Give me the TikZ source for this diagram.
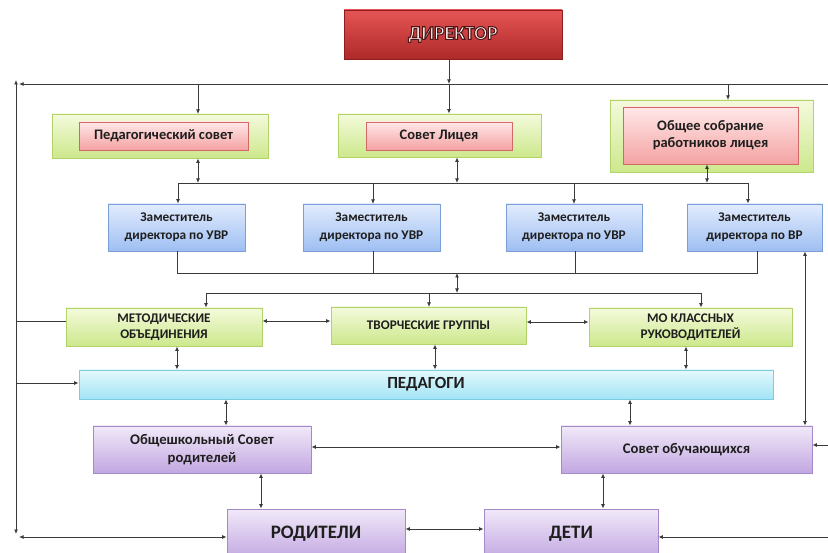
\documentclass[tikz,border=0pt]{standalone}
\usepackage{fontspec}
\setmainfont{Carlito}
\usetikzlibrary{arrows.meta,shadows,calc}
\definecolor{txt}{HTML}{1E1E1E}
\definecolor{lnc}{HTML}{3A3A3A}
\definecolor{gtop}{HTML}{F4FADC}
\definecolor{gbot}{HTML}{CDE88C}
\definecolor{gborder}{HTML}{B2D36A}
\definecolor{ptop}{HTML}{FFE8E8}
\definecolor{pbot}{HTML}{F4A2A2}
\definecolor{pborder}{HTML}{D26868}
\definecolor{btop}{HTML}{E2ECFD}
\definecolor{bbot}{HTML}{9EBEF2}
\definecolor{bborder}{HTML}{7A9ED6}
\definecolor{ctop}{HTML}{E4F9FD}
\definecolor{cbot}{HTML}{A2E4F5}
\definecolor{cborder}{HTML}{7ECCE2}
\definecolor{vtop}{HTML}{F1E9F9}
\definecolor{vbot}{HTML}{C2A7E1}
\definecolor{vborder}{HTML}{A48ACA}
\definecolor{rtop}{HTML}{E65555}
\definecolor{rbot}{HTML}{AE2929}
\definecolor{rborder}{HTML}{8C1E1E}
\newcommand\outltext[1]{\special{pdf:literal direct 2 Tr 1.1 w 0.32 0.08 0.08 RG}#1\special{pdf:literal direct 0 Tr}}
\begin{document}
\begin{tikzpicture}[x=1pt,y=-1pt,
  box/.style={draw, line width=0.8pt, inner sep=1pt, align=center, text=txt,
    drop shadow={shadow xshift=0.8pt, shadow yshift=-1.3pt, opacity=0.3}},
  greenbox/.style={box, draw=gborder, top color=gtop, bottom color=gbot},
  pinkbox/.style={box, draw=pborder, top color=ptop, bottom color=pbot},
  bluebox/.style={box, draw=bborder, top color=btop, bottom color=bbot},
  cyanbox/.style={box, draw=cborder, top color=ctop, bottom color=cbot},
  violetbox/.style={box, draw=vborder, top color=vtop, bottom color=vbot},
  dirbox/.style={box, draw=rborder, top color=rtop, bottom color=rbot, text=white},
  ftop/.style={font=\bfseries\fontsize{14.5}{17}\selectfont},
  fzam/.style={font=\bfseries\fontsize{13.3}{18}\selectfont},
  fviol/.style={font=\bfseries\fontsize{14.7}{18}\selectfont},
  fcaps/.style={font=\bfseries\fontsize{13.2}{16.5}\selectfont},
  fbig/.style={font=\bfseries\fontsize{19}{22}\selectfont},
  ln/.style={draw=lnc, line width=0.9pt},
  arr/.style={ln, -{Latex[length=4.5pt,width=4pt]}},
  darr/.style={ln, {Latex[length=4.5pt,width=4pt]}-{Latex[length=4.5pt,width=4pt]}},
]
\useasboundingbox (0,0) rectangle (828,553);
\clip (0,0) rectangle (828,553);

% ---------- nodes ----------
\node[dirbox, minimum width=218pt, minimum height=49pt,
      font=\bfseries\fontsize{19.5}{22}\selectfont] (dir) at (453,34.5) {\outltext{ДИРЕКТОР}};

\node[greenbox, minimum width=216pt, minimum height=44pt] (psO) at (160,136) {};
\node[pinkbox, ftop, minimum width=169pt, minimum height=28pt] (psI) at (163.5,136) {Педагогический совет};
\node[greenbox, minimum width=203pt, minimum height=43pt] (slO) at (439.5,135.5) {};
\node[pinkbox, ftop, minimum width=146pt, minimum height=28pt] (slI) at (439,136) {Совет Лицея};
\node[greenbox, minimum width=203pt, minimum height=72pt] (osO) at (711.5,136) {};
\node[pinkbox, ftop, minimum width=175pt, minimum height=57pt] (osI) at (710.5,135.5) {Общее собрание\\работников лицея};

\node[bluebox, fzam, minimum width=137pt, minimum height=47pt] (z1) at (176.5,227.5) {Заместитель\\директора по УВР};
\node[bluebox, fzam, minimum width=137pt, minimum height=47pt] (z2) at (371.5,227.5) {Заместитель\\директора по УВР};
\node[bluebox, fzam, minimum width=136pt, minimum height=47pt] (z3) at (574,227.5) {Заместитель\\директора по УВР};
\node[bluebox, fzam, minimum width=135pt, minimum height=47pt] (z4) at (754.5,227.5) {Заместитель\\директора по ВР};

\node[greenbox, fcaps, minimum width=196pt, minimum height=38pt] (m1) at (164,327) {\raisebox{-3pt}{\begin{tabular}{@{}c@{}}МЕТОДИЧЕСКИЕ\\ОБЪЕДИНЕНИЯ\end{tabular}}};
\node[greenbox, fcaps, minimum width=195pt, minimum height=37pt] (m2) at (428.5,325.5) {ТВОРЧЕСКИЕ ГРУППЫ};
\node[greenbox, fcaps, minimum width=203pt, minimum height=38pt] (m3) at (690.5,327) {\raisebox{-3pt}{\begin{tabular}{@{}c@{}}МО КЛАССНЫХ\\РУКОВОДИТЕЛЕЙ\end{tabular}}};

\node[cyanbox, font=\bfseries\fontsize{17}{19}\selectfont, minimum width=694pt, minimum height=29pt] (ped) at (426,384.5) {ПЕДАГОГИ};

\node[violetbox, fviol, minimum width=218pt, minimum height=47pt] (osr) at (202,449.5) {Общешкольный Совет\\родителей};
\node[violetbox, fviol, minimum width=251pt, minimum height=47pt] (so) at (686.5,449.5) {Совет обучающихся};

\node[violetbox, fbig, minimum width=178pt, minimum height=50pt] (rod) at (316,534) {РОДИТЕЛИ};
\node[violetbox, fbig, minimum width=174pt, minimum height=50pt] (deti) at (571,534) {ДЕТИ};

% ---------- junction coordinates ----------
\coordinate (TL) at (19,84);
\coordinate (TR) at (830,84);
\coordinate (J0) at (449,84);
\coordinate (LT) at (16,80);
\coordinate (LB) at (16,534);
\coordinate (BL) at (19,537);
\coordinate (D1) at (178,183);
\coordinate (D4) at (748,183);
\coordinate (C1) at (177,273);
\coordinate (C4) at (757,273);
\coordinate (G1) at (206,293);
\coordinate (G3) at (701,293);
\coordinate (RM) at (830,445);
\coordinate (RB) at (830,537);

% ---------- connectors ----------
% director and top bus
\draw[arr] (dir.south -| J0) -- (J0);
\draw[arr] (J0) -- (J0 |- slO.north);
\draw[arr] (TR) -- (TL);
\draw[darr] (LT) -- (LB);
\draw[arr] (198,84) -- (198,114);
\draw[arr] (728,84) -- (728,100);

% top row to deputies bus
\draw[ln] (D1) -- (D4);
\draw[darr] (psO.south -| 198,0) -- (198,183);
\draw[darr] (slO.south -| 457,0) -- (457,183);
\draw[darr] (osI.south -| 707,0) -- (707,183);
\draw[arr] (D1) -- (D1 |- z1.north);
\draw[arr] (373,183) -- (373,204);
\draw[arr] (574,183) -- (574,204);
\draw[arr] (D4) -- (D4 |- z4.north);

% deputies collecting bus
\draw[ln] (z1.south -| C1) -- (C1) -- (C4) -- (z4.south -| C4);
\draw[ln] (z2.south -| 373,0) -- (373,273);
\draw[ln] (z3.south -| 575,0) -- (575,273);
\draw[darr] (457,273) -- (457,293);

% groups bus
\draw[ln] (G1) -- (G3);
\draw[arr] (G1) -- (G1 |- m1.north);
\draw[arr] (429,293) -- (429,307);
\draw[arr] (G3) -- (G3 |- m3.north);
\draw[darr] (m1.east |- 0,321) -- (m2.west |- 0,321);
\draw[darr] (m2.east |- 0,322) -- (m3.west |- 0,322);
\draw[ln] (16,321) -- (m1.west |- 0,321);
\draw[arr] (16,383) -- (ped.west |- 0,383);

% groups to teachers
\draw[darr] (m1.south -| 177,0) -- (ped.north -| 177,0);
\draw[darr] (m2.south -| 435,0) -- (ped.north -| 435,0);
\draw[darr] (m3.south -| 686,0) -- (ped.north -| 686,0);

% teachers to councils
\draw[darr] (ped.south -| 226,0) -- (osr.north -| 226,0);
\draw[darr] (ped.south -| 630,0) -- (so.north -| 630,0);
\draw[darr] (osr.east |- 0,447) -- (so.west |- 0,447);
\draw[darr] (z4.south -| 805,0) -- (so.north -| 805,0);
\draw[arr] (RM) -- (so.east |- RM);

% councils to parents / children
\draw[darr] (osr.south -| 261,0) -- (rod.north -| 261,0);
\draw[darr] (so.south -| 603,0) -- (deti.north -| 603,0);
\draw[darr] (rod.east |- 0,529) -- (deti.west |- 0,529);
\draw[darr] (BL) -- (rod.west |- BL);
\draw[arr] (RB) -- (deti.east |- RB);
\end{tikzpicture}
\end{document}
